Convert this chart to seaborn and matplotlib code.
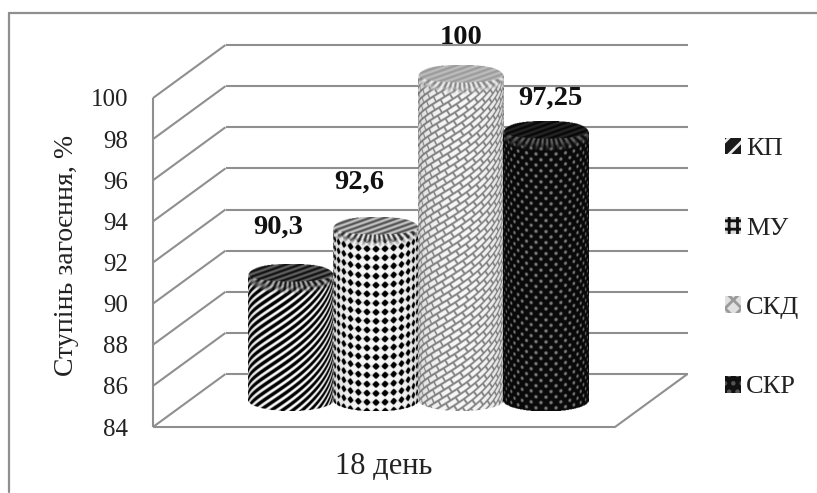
import numpy as np
import pandas as pd
import matplotlib
matplotlib.use("Agg")
import matplotlib.pyplot as plt
from matplotlib.lines import Line2D
from matplotlib.patches import Patch
import seaborn as sns

# Chart data
days = ["18 день"]
series = ["КП", "МУ", "СКД", "СКР"]
values = [90.3, 92.6, 100, 97.25]
y_ticks = [84, 86, 88, 90, 92, 94, 96, 98, 100]

# Canvas and plot box in pixels
W, H = 817, 493
BOX_L, BOX_R, BOX_T, BOX_B = 153, 615, 98, 427
DEPTH_X_PX, DEPTH_Y_PX = 72.5, 53
GREY = "#8f8f8f"

sns.set_theme(style="white")
plt.rcParams["font.family"] = ["Liberation Serif", "DejaVu Serif"]
plt.rcParams["hatch.linewidth"] = 2.0

fig = plt.figure(figsize=(W / 100, H / 100), dpi=100, facecolor="white")
ax = fig.add_axes([BOX_L / W, 1 - BOX_B / H, (BOX_R - BOX_L) / W, (BOX_B - BOX_T) / H])

frame = pd.DataFrame({"day": days * len(series), "series": series, "value": values})
swatch_colors = ["#555555", "#666666", "#cccccc", "#111111"]
sns.barplot(data=frame, x="day", y="value", hue="series", hue_order=series,
            palette=swatch_colors, width=0.8, gap=0, legend=False, ax=ax,
            linewidth=0, zorder=3)

XLIM = (-0.5435, 0.5435)
ax.set_xlim(*XLIM)
ax.set_ylim(y_ticks[0], y_ticks[-1])
px_x = (BOX_R - BOX_L) / (XLIM[1] - XLIM[0])
px_y = (BOX_B - BOX_T) / (y_ticks[-1] - y_ticks[0])
DX, DY = DEPTH_X_PX / px_x, DEPTH_Y_PX / px_y

for side in ax.spines.values():
    side.set_visible(False)
ax.patch.set_alpha(0)

# Walls and floor of the pseudo-3D box
line_kw = dict(color=GREY, lw=1.5, clip_on=False, zorder=1, solid_capstyle="butt")
x0, x1 = XLIM
for t in y_ticks:
    ax.plot([x0, x0 + DX], [t, t + DY], **line_kw)
    ax.plot([x0 + DX, x1 + DX], [t + DY, t + DY], **line_kw)
ax.plot([x0, x0], [y_ticks[0], y_ticks[-1]], **line_kw)
ax.plot([x0, x1, x1 + DX], [y_ticks[0], y_ticks[0], y_ticks[0] + DY], **line_kw)

ax.set_xlabel("")
ax.set_yticks(y_ticks)
ax.tick_params(axis="y", length=0, pad=18, labelsize=18, labelcolor="#222222")
ax.tick_params(axis="x", length=0, pad=18, labelsize=22, labelcolor="#222222")
ax.set_ylabel("Ступінь загоєння, %", fontsize=20, color="#222222")
ax.yaxis.set_label_coords((79 - BOX_L) / (BOX_R - BOX_L), 0.52)


# Surface patterns, each returning grey levels from surface coordinates in pixels
def soft(a):
    return np.clip(a, 0, 1)


def stripes(s, t):
    return soft(0.34 + 0.9 * np.sin(2 * np.pi * (s / 10.0 + t / 7.5)))


def diamonds(s, t):
    p = 9.0
    a = np.mod(s + p / 2, p) - p / 2
    b = np.mod(t + p / 2, p) - p / 2
    d = 0.55 * (np.abs(a) + np.abs(b)) + 0.45 * np.hypot(a, b)
    dark = soft((3.9 - d) / 0.9)
    return (1 - dark) * (0.97 - 0.12 * soft(1 - np.abs(b) / 2.0))


def weave(s, t):
    along = s * 0.82 - t * 0.57
    across = s * 0.57 + t * 0.82
    p_long, p_wide = 12.0, 6.0
    row = np.floor(across / p_wide)
    shifted = along + p_long / 2 * np.mod(row, 2)
    d_long = np.abs(np.mod(shifted + p_long / 2, p_long) - p_long / 2)
    d_wide = np.abs(np.mod(across + p_wide / 2, p_wide) - p_wide / 2)
    return 0.5 + 0.47 * soft((np.minimum(d_long, d_wide) - 0.5) / 0.9)


def dots(s, t):
    p_x, p_y = 10.0, 5.5
    row = np.floor(t / p_y)
    a = np.mod(s + p_x / 2 * np.mod(row, 2), p_x) - p_x / 2
    b = np.mod(t, p_y) - p_y / 2
    return 0.04 + 0.45 * soft((2.3 - np.hypot(a, b)) / 1.3)


def cylinder_rgba(pattern, ray_tones, cap_tones, width_px, height_px,
                  cap_hh=14.0, base_hh=11.0, ss=2):
    r = width_px / 2
    nx, ny = int(width_px * ss), int(height_px * ss)
    X, Y = np.meshgrid((np.arange(nx) + 0.5) / ss - r, (np.arange(ny) + 0.5) / ss)
    u = np.clip(X / r, -1, 1)
    front = np.sqrt(1 - u ** 2)
    s = r * np.arcsin(u)
    t = Y - cap_hh * front
    grey = pattern(s, t) * (0.72 + 0.28 * front ** 0.5)

    # Fan of ribs just under the rim of the top face
    depth = Y - 0.62 * cap_hh - 0.9 * cap_hh * front
    fan = np.arctan2(X, Y + 12.0)
    ribs = ray_tones[0] + (ray_tones[1] - ray_tones[0]) * (0.5 + 0.5 * np.sin(fan * 46))
    ramp = soft(depth / 9.0)
    grey = np.where(depth < 9, ribs * (1 - ramp) + grey * ramp, grey)

    # Top face with rounded shoulders and a flattened stripe texture
    v = (Y - cap_hh * 0.62) / (cap_hh * 0.62)
    in_face = (np.abs(u) ** 2.4 + np.abs(v) ** 2.4) <= 1
    face_tex = 0.5 + 0.5 * np.sin(2 * np.pi * (X / 14.0 + Y / 5.0))
    face = cap_tones[0] + (cap_tones[1] - cap_tones[0]) * face_tex
    grey = np.where(in_face, face, grey)

    # Silhouette: rounded shoulders above, shallow curve below
    w = (Y - cap_hh) / cap_hh
    upper = (np.abs(u) ** 2.6 + np.abs(w) ** 2.6) <= 1
    bottom_edge = height_px - base_hh + base_hh * front
    inside = upper | ((Y >= cap_hh) & (Y <= bottom_edge))
    return np.dstack([grey, grey, grey, inside.astype(float)])


patterns = [stripes, diamonds, weave, dots]
ray_tones = [(0.05, 0.7), (0.15, 0.95), (0.5, 0.95), (0.03, 0.4)]
cap_tones = [(0.05, 0.4), (0.3, 0.8), (0.6, 0.75), (0.02, 0.15)]

# Cylinder bodies stand mid-way across the floor; tops follow the value axis
mid_x = 0.47 * DX
base_lift = 0.5 * DY
top_lift = 18.5 / px_y
cap_hh, base_hh = 14.0, 11.0
bars = sorted(ax.patches, key=lambda b: b.get_x())
centres = []
for bar, pattern, rays, caps, v in zip(bars, patterns, ray_tones, cap_tones, values):
    left = bar.get_x() + mid_x
    width = bar.get_width()
    top = v + top_lift
    bottom = y_ticks[0] + base_lift
    bar.set_x(left)
    bar.set_y(bottom)
    bar.set_height(top - bottom)
    bar.set_visible(False)
    y_hi = top + cap_hh / px_y
    y_lo = bottom - base_hh / px_y
    img = cylinder_rgba(pattern, rays, caps, width * px_x, (y_hi - y_lo) * px_y, cap_hh, base_hh)
    ax.imshow(img, extent=(left, left + width, y_lo, y_hi), aspect="auto",
              interpolation="antialiased", zorder=3, clip_on=False)
    centres.append((left + width / 2, y_hi))
ax.set_xlim(*XLIM)
ax.set_ylim(y_ticks[0], y_ticks[-1])

# Value labels nudged clear of the columns, in points
label_nudge = [(-9, 27), (-12, 25.5), (0.5, 20), (3.5, 17.5)]
for (cx, cy), v, nudge in zip(centres, values, label_nudge):
    ax.annotate(f"{v:g}".replace(".", ","), (cx, cy), xytext=nudge,
                textcoords="offset points", ha="center", va="center",
                fontsize=20.5, fontweight="bold", color="#111111", annotation_clip=False)

# Legend with small patterned swatches
handles = [
    Patch(facecolor="#1a1a1a", edgecolor="#eeeeee", hatch="//", label=series[0], lw=0),
    Patch(facecolor="#dddddd", edgecolor="#111111", hatch="++", label=series[1], lw=0),
    Patch(facecolor="#e0e0e0", edgecolor="#9a9a9a", hatch="xx", label=series[2], lw=0),
    Patch(facecolor="#111111", edgecolor="#555555", hatch="..", label=series[3], lw=0),
]
fig.legend(handles=handles, loc="center left", bbox_to_anchor=(725 / W, 1 - 268 / H),
           bbox_transform=fig.transFigure, frameon=False, fontsize=19,
           handlelength=0.6, handleheight=0.6, handletextpad=0.2,
           labelspacing=2.15, borderpad=0, borderaxespad=0, labelcolor="#222222")

# Outer chart border: top and left edges running off the canvas
border = dict(transform=fig.transFigure, color=GREY, lw=1.6)
fig.add_artist(Line2D([9 / W, 1], [1 - 13 / H, 1 - 13 / H], **border))
fig.add_artist(Line2D([9 / W, 9 / W], [1 - 13 / H, 1 - 492 / H], **border))

fig.savefig("out.png", dpi=100, facecolor="white")
